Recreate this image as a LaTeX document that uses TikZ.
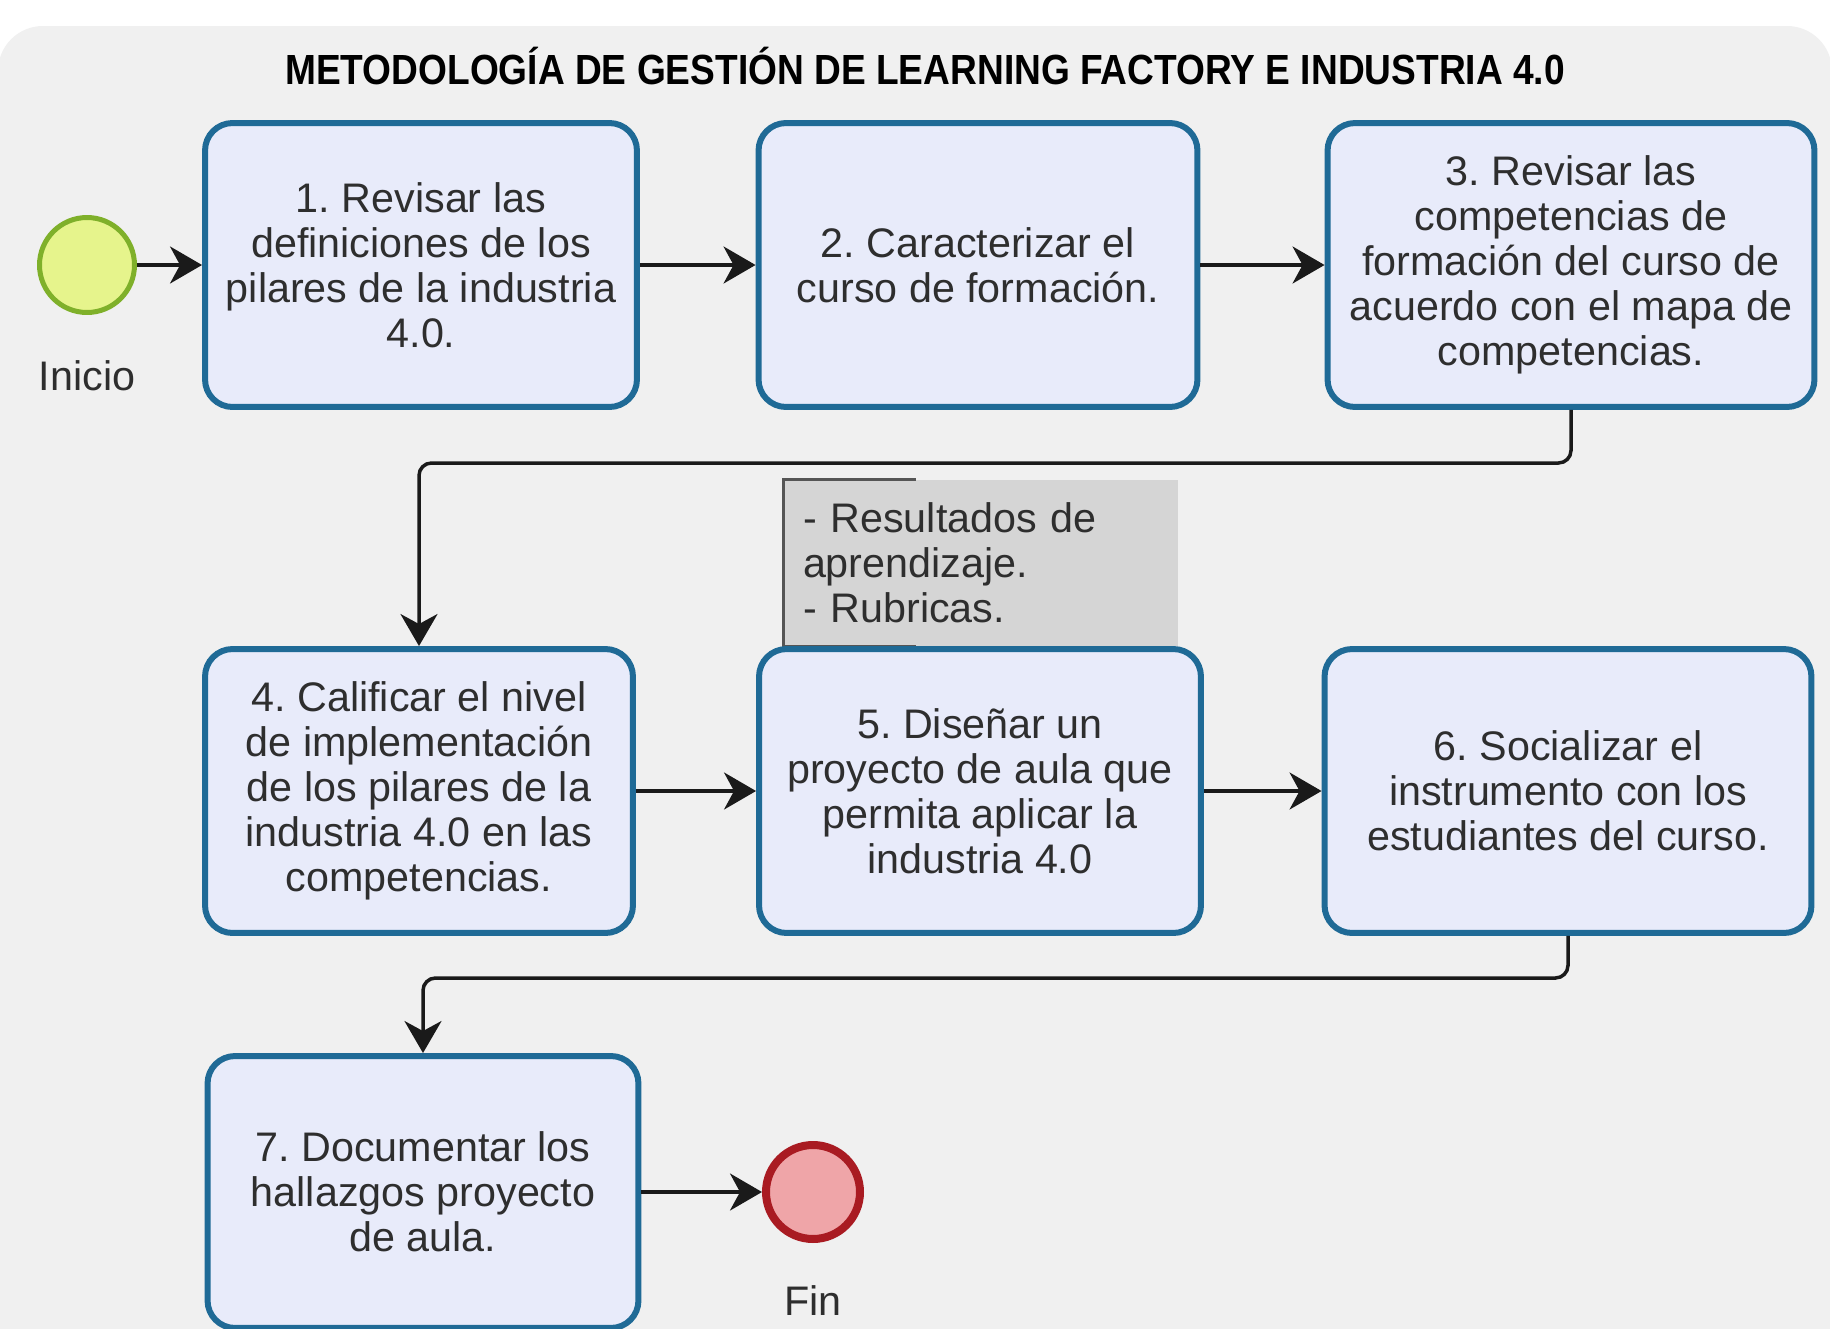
\documentclass[tikz,border=0pt]{standalone}
\usepackage{fontspec}
\usepackage{graphicx}
\setmainfont{Liberation Sans}
\usetikzlibrary{arrows.meta}

\definecolor{bggray}{HTML}{F0F0F0}
\definecolor{taskblue}{HTML}{1F6A96}
\definecolor{taskfill}{HTML}{E8EBFA}
\definecolor{startfill}{HTML}{E6F48C}
\definecolor{startline}{HTML}{7FB02A}
\definecolor{endfill}{HTML}{EFA5A8}
\definecolor{endline}{HTML}{A91B22}
\definecolor{notefill}{HTML}{D5D5D5}
\definecolor{noteline}{HTML}{555555}
\definecolor{txt}{HTML}{2E2E2E}
\definecolor{flowline}{HTML}{1A1A1A}

\newcommand\boxfont{\fontsize{23.5}{25.6}\selectfont}
\newcommand\headfont{\fontsize{24}{28}\selectfont\bfseries}
\frenchspacing

\begin{document}
\begin{tikzpicture}[x=0.02cm, y=-0.02cm,
        task/.style={rectangle, rounded corners=0.55cm, draw=taskblue, line width=0.12cm,
            fill=taskfill, align=center, text=txt, font=\boxfont, inner sep=0pt},
        startev/.style={circle, draw=startline, fill=startfill, line width=0.1cm,
            minimum size=1.9cm, inner sep=0pt},
        endev/.style={circle, draw=endline, fill=endfill, line width=0.16cm,
            minimum size=1.88cm, inner sep=0pt},
        evlabel/.style={text=txt, font=\boxfont},
        notebox/.style={rectangle, fill=notefill, align=left, text=txt, font=\boxfont,
            text width=7.12cm, inner xsep=0.38cm, inner ysep=0pt, minimum height=3.32cm},
        flow/.style={draw=flowline, line width=0.07cm,
            -{Stealth[length=0.64cm, width=0.74cm, inset=0.2cm]}}]

    \useasboundingbox (0,0) rectangle (1830,1329);
    \clip (0,0) rectangle (1830,1329);
    \fill[white] (0,0) rectangle (1830,1329);
    \fill[bggray, rounded corners=0.9cm] (-2,26) rectangle (1832,1420);

    % title
    \node[font=\headfont] (title) at (925,66)
        {\scalebox{0.88}[1]{METODOLOGÍA DE GESTIÓN DE LEARNING FACTORY E INDUSTRIA 4.0}};

    % events
    \node[startev] (start) at (87,265) {};
    \node[evlabel] (inicio) at (87,376) {Inicio};
    \node[endev] (fin) at (813,1192) {};
    \node[evlabel] (finlbl) at (813,1301) {Fin};

    % first row
    \node[task, minimum width=8.64cm, minimum height=5.68cm] (b1) at (421,265)
        {1. Revisar las\\definiciones de los\\pilares de la industria\\4.0.};
    \node[task, minimum width=8.78cm, minimum height=5.68cm] (b2) at (978,265)
        {2. Caracterizar el\\curso de formación.};
    \node[task, minimum width=9.74cm, minimum height=5.68cm] (b3) at (1571,265)
        {3. Revisar las\\competencias de\\formación del curso de\\acuerdo con el mapa de\\competencias.};

    % second row
    \node[notebox] (note) at (981,563)
        {- Resultados de\\aprendizaje.\\- Rubricas.};
    \draw[noteline, line width=0.05cm] ([xshift=2.64cm]note.north west) -- (note.north west)
        -- (note.south west) -- ([xshift=2.64cm]note.south west);

    \node[task, minimum width=8.56cm, minimum height=5.68cm] (b4) at (419,791)
        {4. Calificar el nivel\\de implementación\\de los pilares de la\\industria 4.0 en las\\competencias.};
    \node[task, minimum width=8.84cm, minimum height=5.68cm] (b5) at (980,791)
        {5. Diseñar un\\proyecto de aula que\\permita aplicar la\\industria 4.0};
    \node[task, minimum width=9.74cm, minimum height=5.68cm] (b6) at (1568,791)
        {6. Socializar el\\instrumento con los\\estudiantes del curso.};

    % third row
    \node[task, minimum width=8.62cm, minimum height=5.44cm] (b7) at (423,1192)
        {7. Documentar los\\hallazgos proyecto\\de aula.};

    \coordinate (k1) at (419,463);
    \coordinate (k2) at (423,978);

    % connectors
    \draw[flow] (start) to[] (b1);
    \draw[flow] (b1) to[] (b2);
    \draw[flow] (b2) to[] (b3);
    \draw[flow, rounded corners=0.25cm] (b3.south) |- (k1) -- (b4.north);
    \draw[flow] (b4) to[] (b5);
    \draw[flow] (b5) to[] (b6);
    \draw[flow, rounded corners=0.25cm] (b6.south) |- (k2) -- (b7.north);
    \draw[flow] (b7) to[] (fin);
\end{tikzpicture}
\end{document}
